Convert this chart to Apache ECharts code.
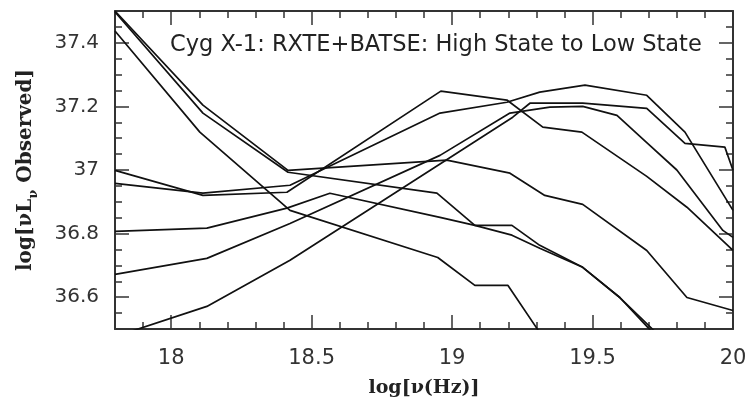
<!DOCTYPE html>
<html>
<head>
<meta charset="utf-8">
<script src="https://cdn.jsdelivr.net/npm/echarts@6/dist/echarts.min.js"></script>
<style>html,body{margin:0;padding:0;background:#fff}#c{width:756px;height:399px}</style>
</head>
<body>
<div id="c"></div>
<script>
// ---- data (log nu [Hz], log nuL_nu) ----
const s1x = [17.80, 18.113, 18.416, 18.981, 19.206, 19.330, 19.465, 19.693, 19.836, 20.0];
const s1y = [37.50, 37.204, 36.999, 37.031, 36.990, 36.920, 36.892, 36.747, 36.599, 36.558];
const s2x = [17.80, 18.113, 18.416, 18.946, 19.081, 19.213, 19.312, 19.465, 19.597, 19.704, 19.836];
const s2y = [37.497, 37.179, 36.993, 36.927, 36.826, 36.826, 36.763, 36.694, 36.599, 36.498, 36.35];
const s3x = [17.80, 18.102, 18.423, 18.949, 19.081, 19.199, 19.305, 19.465];
const s3y = [37.437, 37.119, 36.873, 36.725, 36.637, 36.637, 36.498, 36.29];
const s4x = [17.80, 18.113, 18.412, 18.960, 19.195, 19.323, 19.462, 19.693, 19.836, 20.0];
const s4y = [36.999, 36.920, 36.930, 37.248, 37.220, 37.135, 37.119, 36.98, 36.883, 36.747];
const s5x = [17.80, 18.113, 18.423, 18.957, 19.195, 19.312, 19.473, 19.693, 19.829, 20.0];
const s5y = [36.958, 36.927, 36.952, 37.179, 37.213, 37.245, 37.267, 37.235, 37.119, 36.873];
const s6x = [17.80, 18.127, 18.412, 18.565, 18.957, 19.081, 19.213, 19.312, 19.465, 19.597, 19.715, 19.836];
const s6y = [36.807, 36.817, 36.880, 36.927, 36.851, 36.826, 36.795, 36.754, 36.694, 36.599, 36.498, 36.37];
const s7x = [17.80, 18.127, 18.423, 18.957, 19.206, 19.348, 19.465, 19.587, 19.693, 19.80, 19.964, 20.0];
const s7y = [36.672, 36.722, 36.832, 37.046, 37.179, 37.198, 37.200, 37.172, 37.086, 37.0, 36.81, 36.788];
const s8x = [17.80, 18.127, 18.423, 18.957, 19.216, 19.277, 19.465, 19.693, 19.829, 19.971, 20.0];
const s8y = [36.476, 36.571, 36.716, 37.019, 37.166, 37.210, 37.210, 37.194, 37.084, 37.072, 36.999];

const xMajor = [18, 18.5, 19, 19.5, 20];
const xMinor = [17.9, 18.1, 18.2, 18.3, 18.4, 18.6, 18.7, 18.8, 18.9, 19.1, 19.2, 19.3, 19.4, 19.6, 19.7, 19.8, 19.9];
const yMajor = [36.6, 36.8, 37, 37.2, 37.4];
const yMinor = [36.55, 36.65, 36.7, 36.75, 36.85, 36.9, 36.95, 37.05, 37.1, 37.15, 37.25, 37.3, 37.35, 37.45];

const titleText = 'Cyg X-1: RXTE+BATSE: High State to Low State';
// -------------------------------------------

const seriesX = [s1x, s2x, s3x, s4x, s5x, s6x, s7x, s8x];
const seriesY = [s1y, s2y, s3y, s4y, s5y, s6y, s7y, s8y];

const XMIN = 17.8, XMAX = 20, YMIN = 36.5, YMAX = 37.5;
const frameColor = '#333';
const labelFont = 'DejaVu Sans';

function xAx(pos, ticks, len, showLine, showLabel) {
  return {
    type: 'value', position: pos, min: XMIN, max: XMAX,
    axisLine: {show: showLine, onZero: false, lineStyle: {color: frameColor, width: 2}},
    axisTick: {show: true, inside: true, length: len, customValues: ticks, lineStyle: {color: frameColor, width: 1.5}},
    axisLabel: showLabel ? {show: true, customValues: xMajor, fontFamily: labelFont, fontSize: 21, color: '#333', margin: 19} : {show: false},
    splitLine: {show: false}
  };
}
function yAx(pos, ticks, len, showLine, showLabel) {
  return {
    type: 'value', position: pos, min: YMIN, max: YMAX,
    axisLine: {show: showLine, onZero: false, lineStyle: {color: frameColor, width: 2}},
    axisTick: {show: true, inside: true, length: len, customValues: ticks, lineStyle: {color: frameColor, width: 1.5}},
    axisLabel: showLabel ? {show: true, customValues: yMajor, fontFamily: labelFont, fontSize: 20, color: '#333', margin: 16, padding: [9, 0, 0, 0]} : {show: false},
    splitLine: {show: false}
  };
}

const chart = echarts.init(document.getElementById('c'), null, {renderer: 'canvas'});
chart.setOption({
  animation: false,
  backgroundColor: '#fff',
  grid: {left: 115, right: 23, top: 11, bottom: 70, containLabel: false},
  xAxis: [
    xAx('bottom', xMajor, 14, true, true),
    xAx('bottom', xMinor, 7, false, false),
    xAx('top', xMajor, 14, true, false),
    xAx('top', xMinor, 7, false, false)
  ],
  yAxis: [
    yAx('left', yMajor, 14, true, true),
    yAx('left', yMinor, 7, false, false),
    yAx('right', yMajor, 14, true, false),
    yAx('right', yMinor, 7, false, false)
  ],
  title: {
    text: titleText, left: 170, top: 34, padding: 0,
    textStyle: {fontFamily: labelFont, fontSize: 22.5, fontWeight: 'normal', color: '#222'}
  },
  graphic: [
    {
      type: 'text', x: 424, y: 388,
      style: {text: 'log[ν(Hz)]', fontFamily: 'DejaVu Serif', fontWeight: 'bold', fontSize: 19, fill: '#222', align: 'center', verticalAlign: 'middle'}
    },
    {
      type: 'text', x: 26, y: 170, rotation: Math.PI / 2,
      style: {
        text: '{a|log[νL}{s|ν}{a| Observed]}',
        align: 'center', verticalAlign: 'middle',
        rich: {
          a: {fontFamily: 'DejaVu Serif', fontWeight: 'bold', fontSize: 20, fill: '#222', lineHeight: 28},
          s: {fontFamily: 'DejaVu Serif', fontWeight: 'bold', fontSize: 13, fill: '#222', lineHeight: 28, verticalAlign: 'bottom'}
        }
      }
    }
  ],
  series: seriesX.map((xs, k) => ({
    type: 'line', xAxisIndex: 0, yAxisIndex: 0,
    data: xs.map((x, i) => [x, seriesY[k][i]]),
    showSymbol: false, symbol: 'none', clip: true,
    lineStyle: {color: '#111', width: 1.7},
    silent: true
  }))
});
</script>
</body>
</html>
